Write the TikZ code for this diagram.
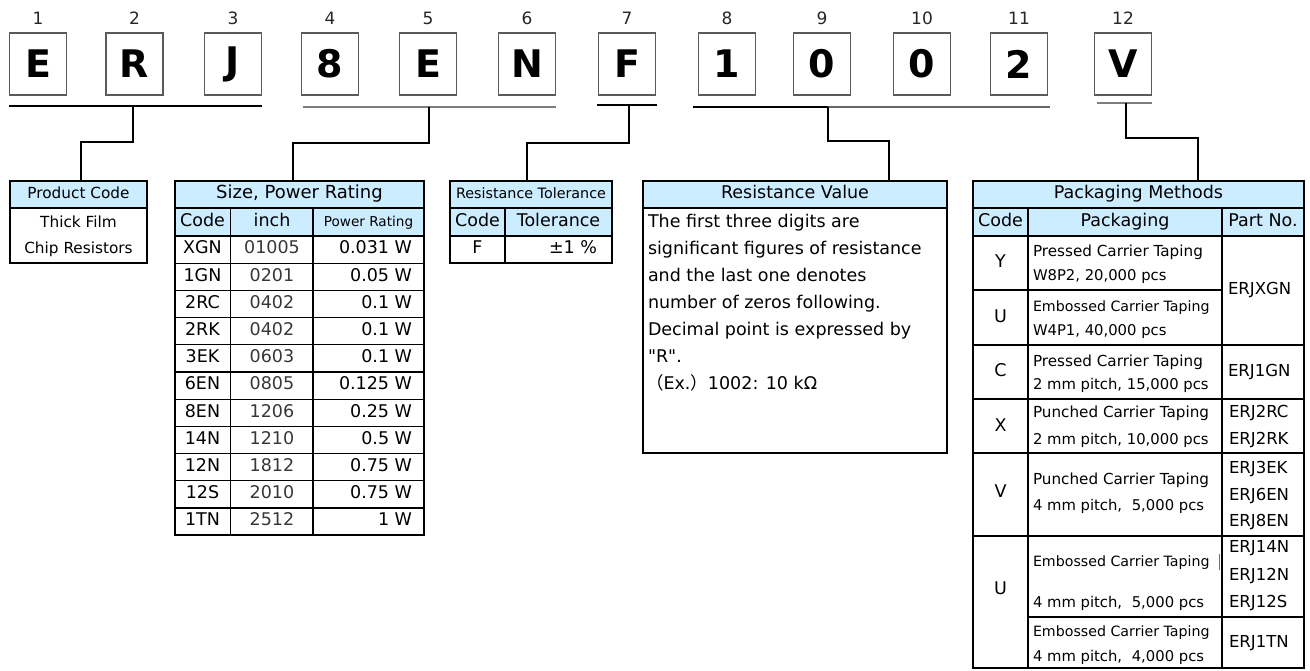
\documentclass[tikz,border=0pt]{standalone}
\usepackage{fontspec}
\setmainfont{DejaVu Sans}
\newfontfamily\cjkfont{Noto Sans CJK JP}
\definecolor{hdr}{RGB}{204,236,255}
\definecolor{boxline}{RGB}{90,90,90}
\definecolor{barg}{RGB}{125,125,125}
\definecolor{soft}{RGB}{55,55,55}
\newcommand\fsz[1]{\fontsize{#1}{#1}\selectfont}
\begin{document}
\begin{tikzpicture}[x=1pt,y=-1pt,
  digit/.style={draw=boxline, line width=1.2pt, minimum width=57pt, minimum height=62pt, inner sep=0pt, font=\fsz{38}\bfseries},
  num/.style={font=\fsz{17}, inner sep=0pt, anchor=mid, yshift=-1.5pt, text=black!85},
  bar/.style={line width=1.4pt},
  conn/.style={line width=2pt},
  tbl/.style={draw, line width=1.2pt, anchor=north west, inner sep=0pt, outer sep=0pt},
  grid/.style={line width=1.2pt},
  txt/.style={inner sep=0pt, outer sep=0pt, anchor=mid, yshift=-1.5pt, font=\fsz{17.5}},
  small/.style={txt, font=\fsz{15.3}},
  pack/.style={inner sep=0pt, outer sep=0pt, anchor=mid west, yshift=-1.5pt, font=\fsz{15.2}},
  packs/.style={pack, font=\fsz{14.2}},
  pitch/.style={pack, font=\fsz{14.8}},
  part/.style={inner sep=0pt, outer sep=0pt, anchor=mid west, yshift=-1.5pt, font=\fsz{16.5}}
]
\useasboundingbox (0,0) rectangle (1310,671);

% ---------- digit boxes ----------
\foreach \i/\x/\c in {1/38/E, 2/134.5/R, 3/233/J, 4/330/8, 5/428/E, 6/527/N, 7/627/F, 8/727/1, 9/822/0, 10/922/0, 11/1019/2, 12/1123/V}{
  \node[digit] (d\i) at (\x,64) {\c};
  \node[num] (n\i) at (\x,20) {\i};
}

% ---------- group bars ----------
\coordinate (b1l) at (9,106);   \coordinate (b1r) at (262,106);  \coordinate (b1m) at (133,106);
\coordinate (b2l) at (303,107); \coordinate (b2r) at (556,107);  \coordinate (b2m) at (429,107);
\coordinate (b3l) at (597,105); \coordinate (b3r) at (657,105);  \coordinate (b3m) at (629,105);
\coordinate (b4l) at (693,107); \coordinate (b4r) at (1050,107); \coordinate (b4m) at (828,107);
\coordinate (b5l) at (1097,103);\coordinate (b5r) at (1152,103); \coordinate (b5m) at (1126,103);
\draw[bar] (b1l) -- (b1r);
\draw[bar, barg] (b2l) -- (b2r);
\draw[bar] (b3l) -- (b3r);
\draw[bar] (b4l) -- (b4m);
\draw[bar, black!60] (b4m) -- (b4r);
\draw[bar, barg] (b5l) -- (b5r);

% ---------- connector bends and targets ----------
\coordinate (s1) at (81,142);   \coordinate (t1) at (81,181);
\coordinate (s2) at (293,143);  \coordinate (t2) at (293,181);
\coordinate (s3) at (527,143);  \coordinate (t3) at (527,181);
\coordinate (s4) at (889,141);  \coordinate (t4) at (889,181);
\coordinate (s5) at (1198,138); \coordinate (t5) at (1198,181);
\draw[conn] (b1m) |- (s1) -- (t1);
\draw[conn] (b2m) |- (s2) -- (t2);
\draw[conn] (b3m) |- (s3) -- (t3);
\draw[conn] (b4m) |- (s4) -- (t4);
\draw[conn] (b5m) |- (s5) -- (t5);

% ---------- Product Code ----------
\fill[hdr] (10,181) rectangle (147,208);
\node[tbl, minimum width=137pt, minimum height=82pt] (pc) at (10,181) {};
\draw[grid] (10,208) -- (147,208);
\node[small] (pch) at (78.5,194.5) {Product Code};
\node[small] (pc1) at (78.5,223) {Thick Film};
\node[small] (pc2) at (78.5,249) {Chip Resistors};

% ---------- Size, Power Rating ----------
\fill[hdr] (175,181) rectangle (424,236);
\node[tbl, minimum width=249pt, minimum height=354pt] (sz) at (175,181) {};
\draw[grid] (175,208) -- (424,208);
\draw[grid] (175,236) -- (424,236);
\draw[grid] (230.5,208) -- (230.5,535);
\draw[grid] (313,208) -- (313,535);
\foreach \k in {1,...,10}{
  \draw[grid] (175,{236+\k*27.2}) -- (424,{236+\k*27.2});
}
\node[txt, font=\fsz{18}] (szt) at (299.5,194.5) {Size, Power Rating};
\node[txt] (szh1) at (202.5,222) {Code};
\node[txt] (szh2) at (272,222) {inch};
\node[txt, font=\fsz{13.6}] (szh3) at (368.5,222) {Power Rating};
\foreach \c/\s/\p [count=\k] in {XGN/01005/0.031 W, 1GN/0201/0.05 W, 2RC/0402/0.1 W, 2RK/0402/0.1 W, 3EK/0603/0.1 W, 6EN/0805/0.125 W, 8EN/1206/0.25 W, 14N/1210/0.5 W, 12N/1812/0.75 W, 12S/2010/0.75 W, 1TN/2512/1 W}{
  \pgfmathsetmacro\yy{236+(\k-0.5)*27.2}
  \node[txt] (szc\k) at (202.5,\yy) {\c};
  \node[txt, text=soft] (szi\k) at (272,\yy) {\s};
  \node[txt, anchor=mid east] (szp\k) at (412,\yy) {\p};
}

% ---------- Resistance Tolerance ----------
\fill[hdr] (450,181) rectangle (612,236);
\node[tbl, minimum width=162pt, minimum height=82pt] (tol) at (450,181) {};
\draw[grid] (450,208) -- (612,208);
\draw[grid] (450,236) -- (612,236);
\draw[grid] (505,208) -- (505,263);
\node[txt, font=\fsz{14.3}] (tolt) at (531,194.5) {Resistance Tolerance};
\node[txt] (tolh1) at (477.5,222) {Code};
\node[txt] (tolh2) at (558.5,222) {Tolerance};
\node[txt] (tolc) at (477.5,249.5) {F};
\node[txt, anchor=mid east] (tolv) at (597,249.5) {±1 \%};

% ---------- Resistance Value ----------
\fill[hdr] (643,181) rectangle (947,208);
\node[tbl, minimum width=304pt, minimum height=272pt] (rv) at (643,181) {};
\draw[grid] (643,208) -- (947,208);
\node[txt] (rvt) at (795,194.5) {Resistance Value};
\node[txt, anchor=mid west] (rv1) at (648,223) {The first three digits are};
\node[txt, anchor=mid west] (rv2) at (648,250) {significant figures of resistance};
\node[txt, anchor=mid west] (rv3) at (648,277) {and the last one denotes};
\node[txt, anchor=mid west] (rv4) at (648,304) {number of zeros following.};
\node[txt, anchor=mid west] (rv5) at (648,331) {Decimal point is expressed by};
\node[txt, anchor=mid west] (rv6) at (648,358) {\textquotedbl R\textquotedbl.};
\node[txt, anchor=mid west] (rv7) at (646,385) {{\cjkfont （}Ex.{\cjkfont ）}1002: 10 kΩ};

% ---------- Packaging Methods ----------
\fill[hdr] (973,181) rectangle (1304,236);
\node[tbl, minimum width=331pt, minimum height=487pt] (pk) at (973,181) {};
\draw[grid] (973,208) -- (1304,208);
\draw[grid] (973,236) -- (1304,236);
\draw[grid] (1028,208) -- (1028,668);
\draw[grid] (1222,208) -- (1222,668);
\draw[grid] (973,290) -- (1222,290);
\draw[grid] (973,345) -- (1304,345);
\draw[grid] (973,399) -- (1304,399);
\draw[grid] (973,453) -- (1304,453);
\draw[grid] (973,536) -- (1304,536);
\draw[grid] (1028,617) -- (1304,617);
\node[txt] (pkt) at (1138.5,194.5) {Packaging Methods};
\node[txt] (pkh1) at (1000.5,222) {Code};
\node[txt] (pkh2) at (1125,222) {Packaging};
\node[txt] (pkh3) at (1263,222) {Part No.};
% codes
\node[txt] (pkc1) at (1000.5,263) {Y};
\node[txt] (pkc2) at (1000.5,318) {U};
\node[txt] (pkc3) at (1000.5,372) {C};
\node[txt] (pkc4) at (1000.5,427) {X};
\node[txt] (pkc5) at (1000.5,493) {V};
\node[txt] (pkc6) at (1000.5,590) {U};
% packaging
\node[pack]  (pkp1a) at (1033,252) {Pressed Carrier Taping};
\node[pitch] (pkp1b) at (1033,276) {W8P2, 20,000 pcs};
\node[packs] (pkp2a) at (1033,307) {Embossed Carrier Taping};
\node[pitch] (pkp2b) at (1033,331) {W4P1, 40,000 pcs};
\node[pack]  (pkp3a) at (1033,362) {Pressed Carrier Taping};
\node[pitch] (pkp3b) at (1033,385) {2 mm pitch, 15,000 pcs};
\node[pack]  (pkp4a) at (1033,413) {Punched Carrier Taping};
\node[pitch] (pkp4b) at (1033,440) {2 mm pitch, 10,000 pcs};
\node[pack]  (pkp5a) at (1033,480) {Punched Carrier Taping};
\node[pitch] (pkp5b) at (1033,506) {4 mm pitch,\hspace{0.65em}5,000 pcs};
\node[packs] (pkp6a) at (1033,562) {Embossed Carrier Taping};
\node[pitch] (pkp6b) at (1033,603) {4 mm pitch,\hspace{0.65em}5,000 pcs};
\node[packs] (pkp7a) at (1033,632) {Embossed Carrier Taping};
\node[pitch] (pkp7b) at (1033,657) {4 mm pitch,\hspace{0.65em}4,000 pcs};
\draw[line width=1pt, black!55] (1219,554) -- (1219,570);
% part numbers
\node[part] (pn1) at (1228,290) {ERJXGN};
\node[part] (pn2) at (1228,372) {ERJ1GN};
\node[part] (pn3) at (1229,413) {ERJ2RC};
\node[part] (pn4) at (1229,440) {ERJ2RK};
\node[part] (pn5) at (1229,469) {ERJ3EK};
\node[part] (pn6) at (1229,496) {ERJ6EN};
\node[part] (pn7) at (1229,522) {ERJ8EN};
\node[part] (pn8) at (1229,548) {ERJ14N};
\node[part] (pn9) at (1229,576) {ERJ12N};
\node[part] (pn10) at (1229,603) {ERJ12S};
\node[part] (pn11) at (1229,643) {ERJ1TN};
\end{tikzpicture}
\end{document}
